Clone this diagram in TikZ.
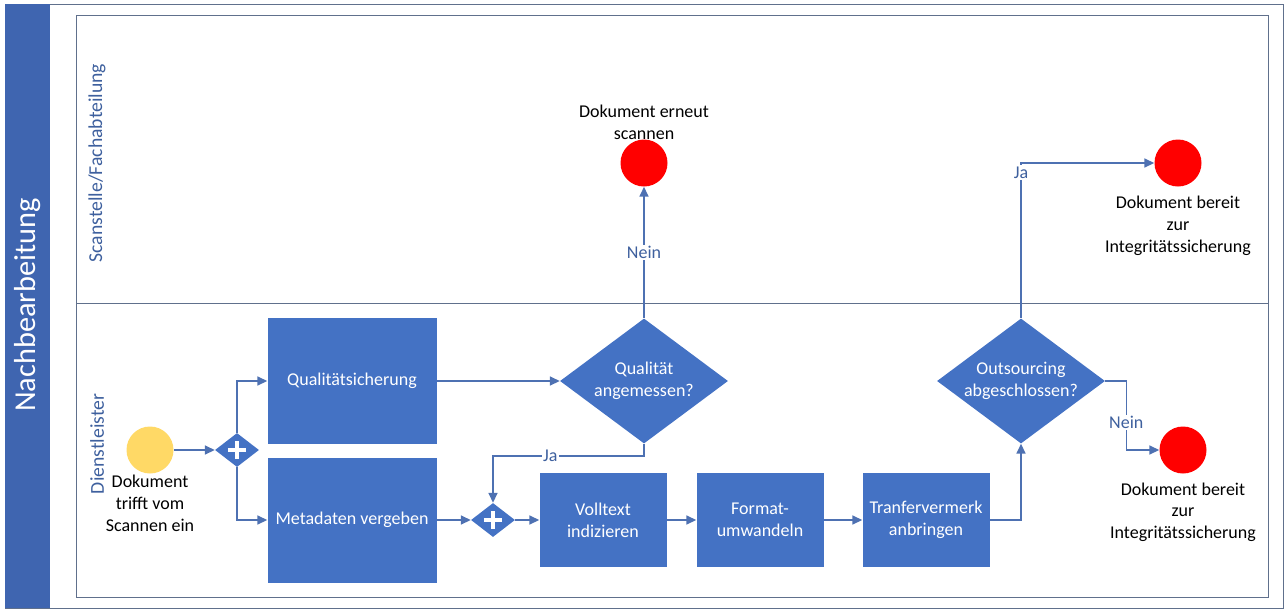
\documentclass[tikz,border=0pt]{standalone}
\usepackage{fontspec}
\setmainfont{Carlito}
\usetikzlibrary{shapes.geometric,arrows.meta,positioning}
\definecolor{taskblue}{RGB}{68,114,196}
\definecolor{bandblue}{RGB}{63,101,176}
\definecolor{flowblue}{RGB}{78,113,178}
\definecolor{laneblue}{RGB}{62,96,158}
\definecolor{framegray}{RGB}{96,112,140}
\definecolor{startyellow}{RGB}{255,217,102}
\definecolor{endred}{RGB}{255,0,0}
\newcommand{\pxu}{0.025cm}
\newcommand{\bpmnfont}{\fontsize{12.8}{15.6}\selectfont}

\begin{document}
\begin{tikzpicture}[x=\pxu,y=-\pxu,
  task/.style={rectangle, fill=taskblue, text=white, align=center, inner sep=0pt, font=\bpmnfont},
  decision/.style={diamond, aspect=1.34, fill=taskblue, text=white, align=center, inner sep=0pt,
    minimum width=168*\pxu, minimum height=125*\pxu, font=\bpmnfont},
  gateway/.style={diamond, fill=taskblue, inner sep=0pt, minimum width=44*\pxu, minimum height=34*\pxu,
    path picture={
      \draw[white,line width=2.9pt] ([xshift=-0.23cm]path picture bounding box.center) -- ([xshift=0.23cm]path picture bounding box.center);
      \draw[white,line width=2.9pt] ([yshift=-0.23cm]path picture bounding box.center) -- ([yshift=0.23cm]path picture bounding box.center);
    }},
  startevent/.style={circle, fill=startyellow, inner sep=0pt, minimum size=47*\pxu},
  endevent/.style={circle, fill=endred, inner sep=0pt, minimum size=47*\pxu},
  eventtext/.style={align=center, font=\bpmnfont, inner sep=1pt},
  lanelabel/.style={rotate=90, text=laneblue, font=\fontsize{14}{17}\selectfont},
  flow/.style={draw=flowblue, line width=1.1pt, -{Triangle[length=7pt,width=6.4pt]}},
  cond/.style={fill=white, text=laneblue, font=\bpmnfont, inner sep=1pt}]

  \useasboundingbox (0,0) rectangle (1288,612);

  % pool and lanes
  \draw[framegray, line width=0.6pt] (5,4) rectangle (1283,608);
  \fill[bandblue] (5,4) rectangle (50,608);
  \node[rotate=90, text=white, font=\fontsize{21.6}{26}\selectfont] (pool) at (28,305) {Nachbearbeitung};
  \draw[framegray, line width=0.6pt] (76,15) rectangle (1268,597);
  \draw[framegray, line width=0.6pt] (76,303) -- (1268,303);
  \node[lanelabel] (lane1) at (97,163) {Scanstelle/Fachabteilung};
  \node[lanelabel] (lane2) at (97,444) {Dienstleister};

  % events and gateways
  \node[startevent] (start) at (150,450) {};
  \node[eventtext, anchor=north] (starttext) at (start.south) {Dokument\\trifft vom\\Scannen ein};
  \node[gateway] (gw1) at (237,450) {};
  \node[gateway] (gw2) at (493,520) {};
  \node[endevent] (end1) at (644,163) {};
  \node[eventtext, anchor=south] (end1text) at ([yshift=-1.2pt]end1.north) {Dokument erneut\\scannen};
  \node[endevent] (end2) at (1178,163) {};
  \node[eventtext, anchor=north] (end2text) at ([yshift=-5.5pt]end2.south) {Dokument bereit\\zur\\Integritätssicherung};
  \node[endevent] (end3) at (1183,450) {};
  \node[eventtext, anchor=north] (end3text) at ([yshift=-5pt]end3.south) {Dokument bereit\\zur\\Integritätssicherung};

  % tasks
  \node[task, minimum width=169*\pxu, minimum height=126*\pxu] (qs) at (352,381) {Qualitätsicherung};
  \node[task, minimum width=169*\pxu, minimum height=125*\pxu] (meta) at (352,520) {Metadaten vergeben};
  \node[task, minimum width=127*\pxu, minimum height=94*\pxu] (vt) at (603,520) {Volltext\\indizieren};
  \node[task, minimum width=127*\pxu, minimum height=94*\pxu] (fu) at (760,520) {Format-\\umwandeln};
  \node[task, minimum width=127*\pxu, minimum height=94*\pxu] (tv) at (926,520) {Tranfervermerk\\anbringen};

  % decisions
  \node[decision] (qa) at (644,381) {Qualität\\angemessen?};
  \node[decision] (oa) at (1021,381) {Outsourcing\\abgeschlossen?};

  % flows
  \draw[flow] (start) -- (gw1);
  \draw[flow] (gw1.north) |- (qs.west);
  \draw[flow] (gw1.south) |- (meta.west);
  \draw[flow] (qs.east) -- (qa.west);
  \draw[flow] (qa.north) -- node[cond]{Nein} (end1.south);
  \draw[flow] (qa.south) -- ++(0,12) -| node[cond, pos=0.31]{Ja} (gw2.north);
  \draw[flow] (meta.east) -- (gw2.west);
  \draw[flow] (gw2.east) -- (vt.west);
  \draw[flow] (vt.east) -- (fu.west);
  \draw[flow] (fu.east) -- (tv.west);
  \draw[flow] (tv.east) -| (oa.south);
  \draw[flow] (oa.north) |- node[cond, pos=0.47]{Ja} (end2.west);
  \draw[flow] (oa.east) -- ++(21,0) |- node[cond, pos=0.3]{Nein} (end3.west);
\end{tikzpicture}
\end{document}
